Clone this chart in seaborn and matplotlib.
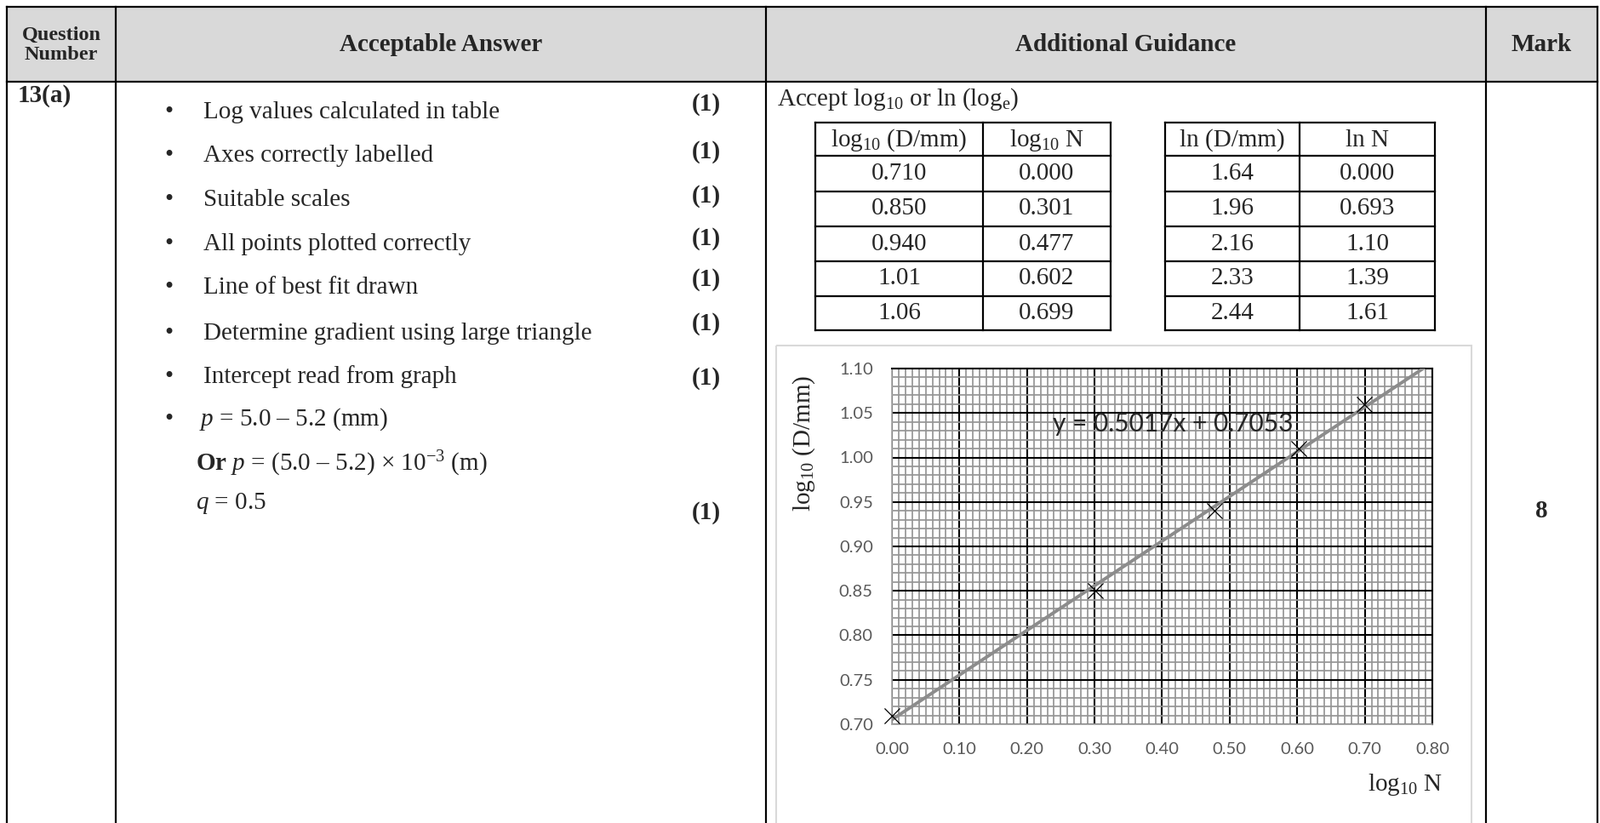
import matplotlib
matplotlib.use('Agg')
import matplotlib.pyplot as plt
from matplotlib.patches import Rectangle
from matplotlib.ticker import MultipleLocator
import pandas as pd
import seaborn as sns

# Valores das tabelas (log10 e ln)
log_d_txt = ['0.710', '0.850', '0.940', '1.01', '1.06']
log_n_txt = ['0.000', '0.301', '0.477', '0.602', '0.699']
ln_d_txt = ['1.64', '1.96', '2.16', '2.33', '2.44']
ln_n_txt = ['0.000', '0.693', '1.10', '1.39', '1.61']

headers = ['Question\nNumber', 'Acceptable Answer', 'Additional Guidance', 'Mark']
criteria = ['Log values calculated in table', 'Axes correctly labelled', 'Suitable scales',
            'All points plotted correctly', 'Line of best fit drawn',
            'Determine gradient using large triangle', 'Intercept read from graph']
total_mark = '8'
equation = 'y = 0.5017x + 0.7053'
x_ticks = [0.0, 0.1, 0.2, 0.3, 0.4, 0.5, 0.6, 0.7, 0.8]
y_ticks = [0.70, 0.75, 0.80, 0.85, 0.90, 0.95, 1.00, 1.05, 1.10]

df = pd.DataFrame({'log_n': [float(v) for v in log_n_txt],
                   'log_d': [float(v) for v in log_d_txt]})

sns.set_style('white')
plt.rcParams['font.family'] = ['Liberation Serif', 'DejaVu Serif']
plt.rcParams['mathtext.fontset'] = 'custom'
plt.rcParams['mathtext.rm'] = 'Liberation Serif'
plt.rcParams['mathtext.it'] = 'Liberation Serif:italic'
plt.rcParams['mathtext.bf'] = 'Liberation Serif:bold'

W, H = 1881, 967
FS = 21
fig = plt.figure(figsize=(W / 100, H / 100), dpi=100)
bg = fig.add_axes([0, 0, 1, 1])
bg.set_xlim(0, W)
bg.set_ylim(H, 0)
bg.axis('off')

# Tabela principal
cols = [8, 136, 900, 1746, 1877]
bg.add_patch(Rectangle((cols[0], 8), cols[-1] - cols[0], 88, fc='#d9d9d9', ec='none'))
for yy in [8, 96]:
    bg.plot([cols[0], cols[-1]], [yy, yy], color='black', lw=1.6, solid_capstyle='projecting')
for xx in cols:
    bg.plot([xx, xx], [8, H + 5], color='black', lw=1.6, solid_capstyle='projecting')

bg.text(72, 53, headers[0], ha='center', va='center', fontsize=17.5, fontweight='bold', linespacing=1.1)
for i, h in enumerate(headers[1:], start=1):
    bg.text((cols[i] + cols[i + 1]) / 2, 53, h, ha='center', va='center', fontsize=FS, fontweight='bold')

bg.text(21, 113, '13(a)', ha='left', va='center', fontsize=FS, fontweight='bold')

crit_y = [132, 183, 235, 287, 338, 392, 443]
mark_y = [123, 178, 230, 280, 329, 380, 445]
for txt, yy, my in zip(criteria, crit_y, mark_y):
    bg.text(198, yy, '\u2022', ha='center', va='center', fontsize=FS)
    bg.text(239, yy, txt, ha='left', va='center', fontsize=FS)
    bg.text(830, my, '(1)', ha='center', va='center', fontsize=FS, fontweight='bold')

bg.text(198, 493, '\u2022', ha='center', va='center', fontsize=FS)
bg.text(234, 493, r'$p$ = 5.0 ' + '\u2013' + ' 5.2 (mm)', ha='left', va='center', fontsize=FS)
bg.text(230, 545, r'$\mathbf{Or}$ $p$ = (5.0 ' + '\u2013' + r' 5.2) $\times$ 10$^{-3}$ (m)',
        ha='left', va='center', fontsize=FS)
bg.text(230, 592, r'$q$ = 0.5', ha='left', va='center', fontsize=FS)
bg.text(830, 602, '(1)', ha='center', va='center', fontsize=FS, fontweight='bold')

bg.text(1811, 600, total_mark, ha='center', va='center', fontsize=FS, fontweight='bold')

bg.text(913, 117, r'Accept log$_{10}$ or ln (log$_{\mathrm{e}}$)', ha='left', va='center', fontsize=FS)

# Tabelas internas
rows = [144, 183, 225, 266, 307, 348, 388]


def desenha_tabela(xs, titulo1, titulo2, col1, col2):
    for yy in rows:
        bg.plot([xs[0], xs[-1]], [yy, yy], color='black', lw=1.6, solid_capstyle='projecting')
    for xx in xs:
        bg.plot([xx, xx], [rows[0], rows[-1]], color='black', lw=1.6, solid_capstyle='projecting')
    c1 = (xs[0] + xs[1]) / 2
    c2 = (xs[1] + xs[2]) / 2
    bg.text(c1, 165, titulo1, ha='center', va='center', fontsize=FS)
    bg.text(c2, 165, titulo2, ha='center', va='center', fontsize=FS)
    for k, (a, b) in enumerate(zip(col1, col2)):
        yc = (rows[k + 1] + rows[k + 2]) / 2
        bg.text(c1, yc, a, ha='center', va='center', fontsize=FS)
        bg.text(c2, yc, b, ha='center', va='center', fontsize=FS)


desenha_tabela([958, 1155, 1305], r'log$_{10}$ (D/mm)', r'log$_{10}$ N', log_d_txt, log_n_txt)
desenha_tabela([1369, 1527, 1686], 'ln (D/mm)', 'ln N', ln_d_txt, ln_n_txt)

# Moldura do grafico
bg.add_patch(Rectangle((912, 406), 817, 620, fill=False, ec='#d9d9d9', lw=1.5))

# Grafico
ax = fig.add_axes([1048 / W, 1 - 851 / H, 635 / W, 418 / H])
ax.set_xlim(0, 0.8)
ax.set_ylim(0.7, 1.1)
sns.regplot(data=df, x='log_n', y='log_d', ax=ax, scatter=False, ci=None, truncate=False,
            line_kws=dict(color='#8c8c8c', lw=2.8, zorder=4))
sns.scatterplot(data=df, x='log_n', y='log_d', ax=ax, marker='x', color='black', s=170,
                linewidth=0.9, zorder=5, clip_on=False)
ax.set_xlim(0, 0.8)
ax.set_ylim(0.7, 1.1)
ax.set_xlabel('')
ax.set_ylabel('')

ax.set_xticks(x_ticks, labels=[f'{v:.2f}' for v in x_ticks], fontfamily='Lato', fontsize=14.5, color='#595959')
ax.set_yticks(y_ticks, labels=[f'{v:.2f}' for v in y_ticks], fontfamily='Lato', fontsize=14.5, color='#595959')
ax.xaxis.set_minor_locator(MultipleLocator(0.01))
ax.yaxis.set_minor_locator(MultipleLocator(0.01))
ax.tick_params(which='both', length=0)
ax.tick_params(axis='x', pad=15)
ax.tick_params(axis='y', pad=16)
ax.grid(which='minor', color='#959595', lw=1.25)
ax.grid(which='major', color='black', lw=1.5)
ax.set_axisbelow(True)
for s in ['left', 'bottom']:
    ax.spines[s].set_color('#a6a6a6')
    ax.spines[s].set_linewidth(1.2)
for s in ['top', 'right']:
    ax.spines[s].set_color('black')
    ax.spines[s].set_linewidth(1.5)

ax.text(0.238, 1.0378, equation, ha='left', va='center', fontfamily='Lato', fontsize=21.5, color='#262626', zorder=6)

bg.text(1695, 922, r'log$_{10}$ N', ha='right', va='center', fontsize=FS)
bg.text(945, 521, r'log$_{10}$ (D/mm)', ha='center', va='center', rotation=90, fontsize=FS)

fig.savefig('out.png', dpi=100)
